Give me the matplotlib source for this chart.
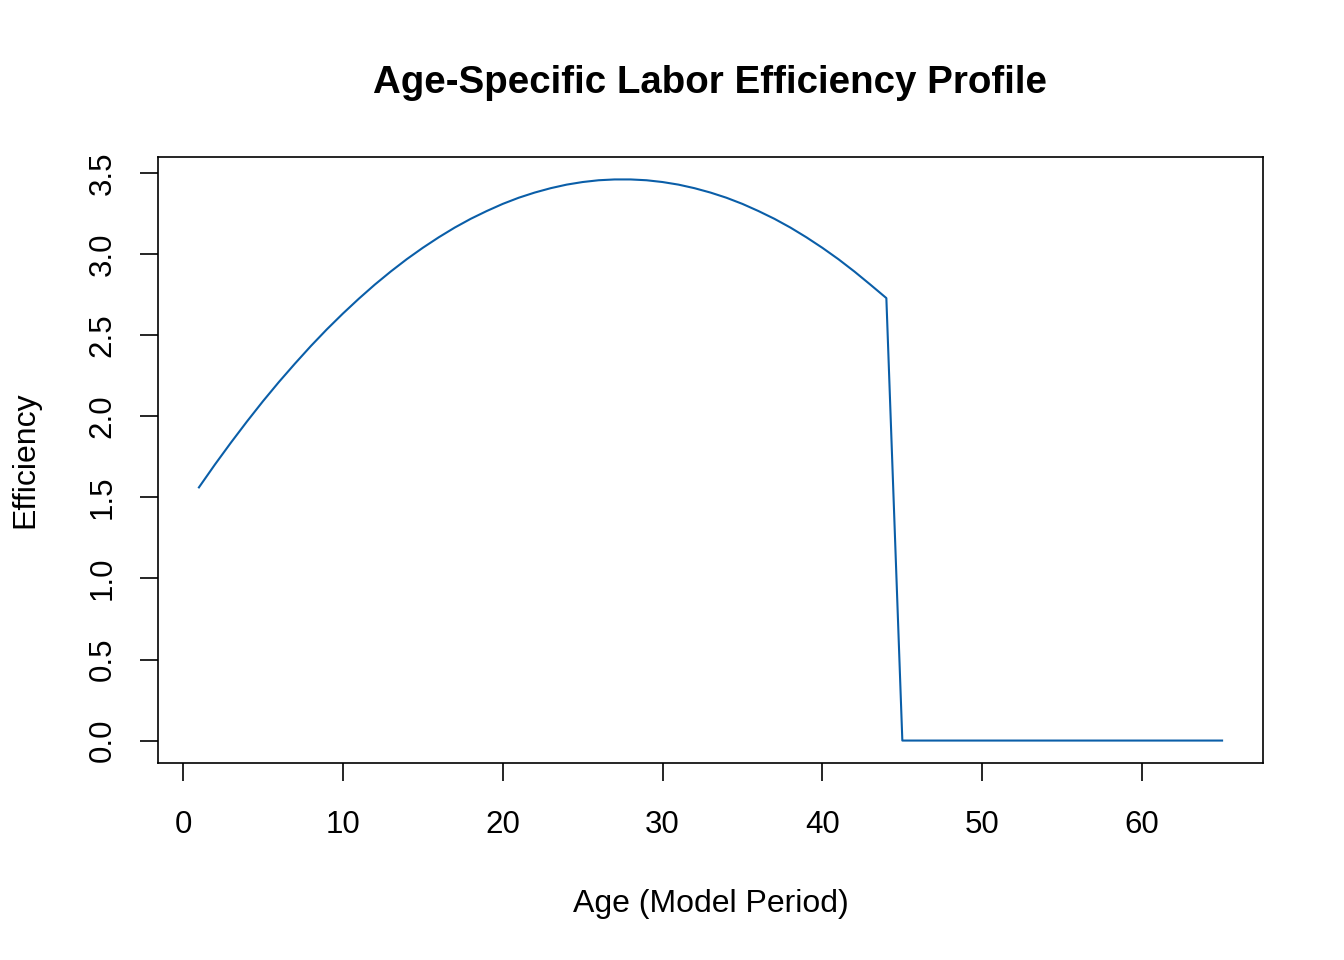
import numpy as np
import matplotlib.pyplot as plt

plt.rcParams['font.family'] = ['Liberation Sans', 'DejaVu Sans']

# efficiency, ages 1..65 (zero after retirement at 45)
ages = list(range(1, 66))
efficiency = [
    1.562, 1.703, 1.838, 1.968, 2.093, 2.212, 2.325, 2.434, 2.537, 2.634,
    2.726, 2.813, 2.894, 2.970, 3.040, 3.105, 3.165, 3.219, 3.267, 3.311,
    3.349, 3.381, 3.408, 3.430, 3.446, 3.457, 3.462, 3.462, 3.457, 3.446,
    3.430, 3.408, 3.381, 3.349, 3.311, 3.267, 3.219, 3.165, 3.105, 3.040,
    2.970, 2.894, 2.813, 2.730,
] + [0.0] * 21

fig = plt.figure(figsize=(13.44, 9.6), dpi=100)
ax = fig.add_axes([158 / 1344, 1 - 763 / 960, (1263 - 158) / 1344, (763 - 157) / 960])

ax.plot(ages, efficiency, color='#0A5EA8', lw=1.5)

# R-style 4% padding
xr = max(ages) - min(ages)
ax.set_xlim(min(ages) - 0.04 * xr, max(ages) + 0.04 * xr)
yr = max(efficiency) - min(efficiency)
ax.set_ylim(min(efficiency) - 0.04 * yr, max(efficiency) + 0.04 * yr)

ax.set_xticks(np.arange(0, 61, 10))
ax.set_yticks(np.arange(0, 3.51, 0.5))
ax.set_yticklabels([f'{v:.1f}' for v in np.arange(0, 3.51, 0.5)], rotation=90, va='center')
ax.tick_params(direction='out', length=13, width=1.2, labelsize=22.5, pad=21)
ax.tick_params(axis='y', pad=16)
for s in ax.spines.values():
    s.set_linewidth(1.2)

ax.set_xlabel('Age (Model Period)', fontsize=23, labelpad=35)
ax.set_ylabel('Efficiency', fontsize=23, labelpad=34)
fig.text(0.528, 1 - 83 / 960, 'Age-Specific Labor Efficiency Profile',
         ha='center', va='center', fontsize=27.7, fontweight='bold')

fig.savefig('out.png', dpi=100)
